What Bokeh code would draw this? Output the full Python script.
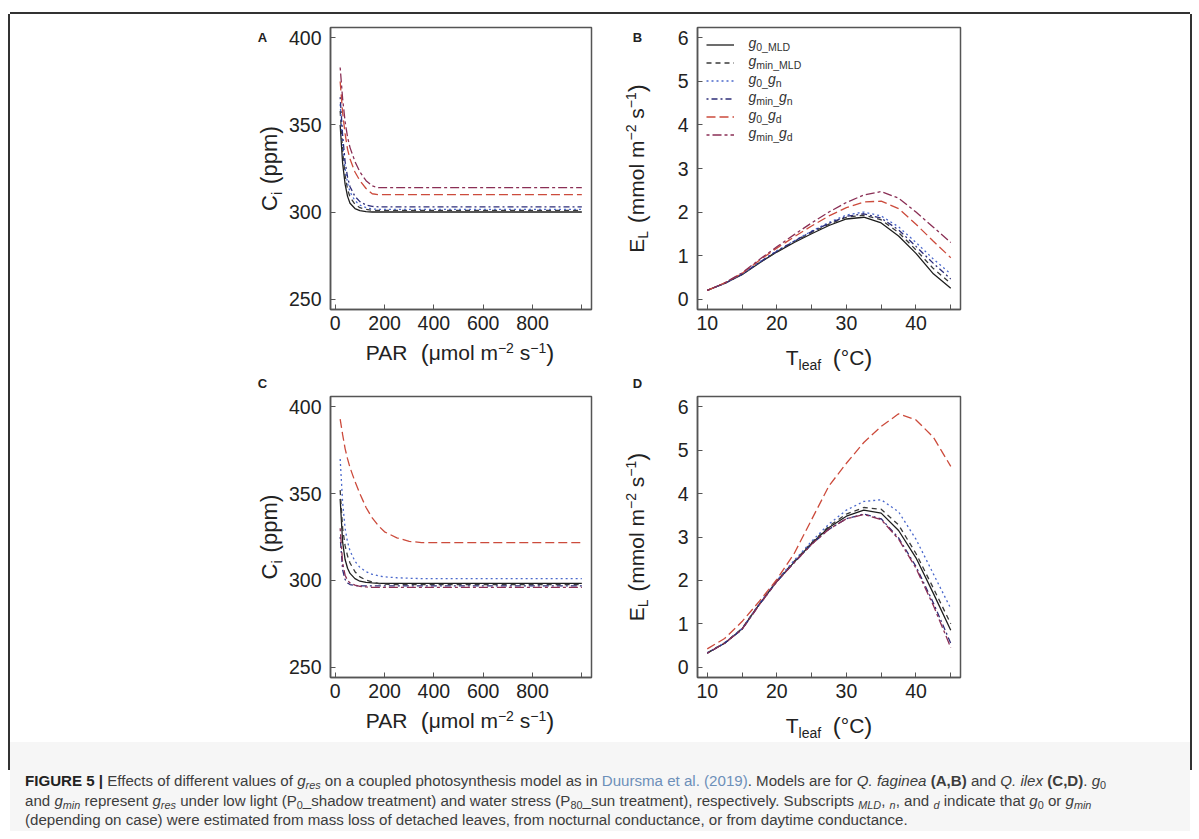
import math
from bokeh.plotting import figure
from bokeh.models import FixedTicker, Label, Legend, LegendItem, Range1d, Spacer, Div
from bokeh.layouts import column, row
from bokeh.core.properties import value
from bokeh.embed import file_html
from bokeh.resources import INLINE

# ---------------- data ----------------
par = [20, 30, 40, 50, 60, 80, 100, 125, 150, 175, 200, 250, 300, 350, 400, 600, 800, 1000]
tleaf = [10, 12.5, 15, 17.5, 20, 22.5, 25, 27.5, 30, 32.5, 35, 37.5, 40, 42.5, 45]

series_names = ["g0_MLD", "gmin_MLD", "g0_gn", "gmin_gn", "g0_gd", "gmin_gd"]

# Panel A: Q. faginea, Ci vs PAR
a_g0_mld = [350, 328, 316, 309, 305, 302, 300.8, 300.2, 300, 300, 300, 300, 300, 300, 300, 300, 300, 300]
a_gmin_mld = [358, 335, 321, 313, 308.5, 304.5, 302.5, 301.5, 301, 301, 301, 301, 301, 301, 301, 301, 301, 301]
a_g0_gn = [362, 340, 325, 316.5, 311.5, 306.5, 304, 302.5, 301.8, 301.5, 301.5, 301.5, 301.5, 301.5, 301.5, 301.5, 301.5, 301.5]
a_gmin_gn = [366, 344, 329, 320, 314.5, 309, 306, 304, 303.2, 303, 303, 303, 303, 303, 303, 303, 303, 303]
a_g0_gd = [375, 357, 345, 336, 330.5, 323, 318, 313.5, 310.5, 310, 310, 310, 310, 310, 310, 310, 310, 310]
a_gmin_gd = [383, 365, 352, 343, 337, 329, 323, 318, 315, 314, 314, 314, 314, 314, 314, 314, 314, 314]

# Panel B: Q. faginea, EL vs Tleaf
b_g0_mld = [0.20, 0.36, 0.56, 0.83, 1.08, 1.30, 1.50, 1.69, 1.84, 1.88, 1.75, 1.45, 1.05, 0.58, 0.25]
b_gmin_mld = [0.20, 0.36, 0.57, 0.84, 1.09, 1.32, 1.53, 1.72, 1.88, 1.93, 1.82, 1.53, 1.13, 0.70, 0.36]
b_g0_gn = [0.20, 0.36, 0.57, 0.85, 1.11, 1.34, 1.56, 1.76, 1.93, 2.00, 1.91, 1.66, 1.30, 0.92, 0.58]
b_gmin_gn = [0.20, 0.36, 0.57, 0.84, 1.10, 1.33, 1.55, 1.74, 1.90, 1.96, 1.86, 1.59, 1.21, 0.82, 0.46]
b_g0_gd = [0.20, 0.37, 0.59, 0.89, 1.17, 1.43, 1.68, 1.91, 2.10, 2.23, 2.25, 2.08, 1.72, 1.33, 0.95]
b_gmin_gd = [0.20, 0.37, 0.60, 0.91, 1.20, 1.48, 1.75, 2.00, 2.22, 2.39, 2.47, 2.32, 2.00, 1.65, 1.30]

# Panel C: Q. ilex, Ci vs PAR
c_g0_mld = [347, 322, 312, 307, 304, 301, 299.5, 298.8, 298.5, 298.3, 298.3, 298.3, 298.3, 298.3, 298.3, 298.3, 298.3, 298.3]
c_gmin_mld = [352, 330, 320, 314, 310, 305, 302, 300.2, 299, 298.2, 297.8, 297.5, 297.5, 297.5, 297.5, 297.5, 297.5, 297.5]
c_g0_gn = [370, 345, 330, 322, 317, 311, 307.5, 305, 303.5, 302.6, 302, 301.5, 301.2, 301, 301, 301, 301, 301]
c_gmin_gn = [325, 306, 300.5, 298.5, 297.6, 297, 296.8, 296.8, 296.8, 296.8, 296.8, 296.8, 296.8, 296.8, 296.8, 296.8, 296.8, 296.8]
c_g0_gd = [393, 384, 376, 370, 365, 357, 350, 342, 336, 331.5, 328, 324.5, 322.5, 321.8, 321.7, 321.7, 321.7, 321.7]
c_gmin_gd = [330, 310, 303, 300, 298.5, 297.3, 296.6, 296.2, 296, 296, 296, 296, 296, 296, 296, 296, 296, 296]

# Panel D: Q. ilex, EL vs Tleaf
d_g0_mld = [0.32, 0.55, 0.88, 1.45, 1.98, 2.42, 2.85, 3.22, 3.48, 3.62, 3.55, 3.15, 2.52, 1.70, 0.85]
d_gmin_mld = [0.33, 0.56, 0.89, 1.46, 1.99, 2.44, 2.87, 3.25, 3.53, 3.68, 3.64, 3.28, 2.62, 1.82, 1.00]
d_g0_gn = [0.33, 0.56, 0.89, 1.47, 2.00, 2.46, 2.90, 3.30, 3.62, 3.82, 3.86, 3.58, 2.95, 2.15, 1.35]
d_gmin_gn = [0.32, 0.55, 0.87, 1.44, 1.97, 2.41, 2.83, 3.18, 3.42, 3.53, 3.42, 2.98, 2.32, 1.48, 0.55]
d_g0_gd = [0.42, 0.66, 1.05, 1.52, 2.02, 2.62, 3.40, 4.18, 4.70, 5.18, 5.55, 5.84, 5.70, 5.30, 4.63]
d_gmin_gd = [0.32, 0.55, 0.87, 1.44, 1.97, 2.41, 2.83, 3.18, 3.42, 3.52, 3.40, 2.95, 2.28, 1.42, 0.45]

par_ticks = [0, 200, 400, 600, 800, 1000]
ci_ticks = [250, 300, 350, 400]
t_ticks = [10, 15, 20, 25, 30, 35, 40, 45]
el_ticks = [0, 1, 2, 3, 4, 5, 6]

# ---------------- styles ----------------
colors = ["#1e1e1e", "#3a3a3a", "#4a68cc", "#2e2e78", "#cc4b3c", "#8a2f55"]
dashes = ["solid", "5 4", "2 3", "2 3 6 3", "9 4", "3 3 9 3"]
FONT = "Liberation Sans"
TXT = "#222222"
AXC = "#555555"

WID = {' ': 278, '(': 333, ')': 333, '°': 400, '−': 584, '_': 556, 'A': 667, 'C': 722,
       'E': 667, 'L': 556, 'P': 667, 'R': 722, 'T': 611, 'M': 833, 'D': 722, 'a': 556,
       'e': 556, 'f': 278, 'i': 222, 'l': 222, 'm': 833, 'o': 556, 'p': 556, 's': 500,
       'g': 556, 'n': 556, 'd': 556, 'μ': 576, '0': 556, '1': 556, '2': 556}


def tw(s, size):
    return sum(WID.get(ch, 556) for ch in s) * size / 1000.0


class TextMixin:
    def raw(self, px, py, s, size, angle=0.0, style="normal", align="left",
            baseline="middle", color=TXT):
        self.fig.add_layout(Label(x=self.X(px), y=self.Y(py), text=s, text_font=FONT,
                                  text_font_size=f"{size}px", text_font_style=style,
                                  text_color=color, text_align=align,
                                  text_baseline=baseline, angle=angle))

    def hrich(self, cx, by, pieces, left=False, color=TXT):
        # by = alphabetic baseline (page px); drawn with a 'middle' anchor
        total = sum(tw(t, s) for t, s, d, st in pieces)
        x = cx if left else cx - total / 2.0
        for t, s, d, st in pieces:
            if t.strip():
                self.raw(x, by + d - 0.35 * s, t, s, style=st, color=color)
            x += tw(t, s)

    def vrich(self, bx, cy, pieces):
        total = sum(tw(t, s) for t, s, d, st in pieces)
        y = cy + total / 2.0
        for t, s, d, st in pieces:
            if t.strip():
                self.raw(bx + d - 0.35 * s, y, t, s, angle=math.pi / 2, style=st)
            y -= tw(t, s)


class Panel(TextMixin):
    def __init__(self, fig, L, R, T, B, xr, yr):
        self.fig, self.L, self.R, self.T, self.B, self.xr, self.yr = fig, L, R, T, B, xr, yr

    def X(self, px):
        return self.xr[0] + (px - self.L) / (self.R - self.L) * (self.xr[1] - self.xr[0])

    def Y(self, py):
        return self.yr[1] - (py - self.T) / (self.B - self.T) * (self.yr[1] - self.yr[0])


class TextCanvas(TextMixin):
    """A plain figure used only for text; bt/bb match the neighbouring plot so that
    the frames line up (Bokeh aligns the frames of plots placed in one row)."""

    def __init__(self, left, top, w, h, bt=0, bb=0):
        self.left, self.ftop = left, top + bt
        self.fh = h - bt - bb
        f = figure(width=w, height=h, x_range=Range1d(0, w), y_range=Range1d(0, self.fh),
                   output_backend="svg", toolbar_location=None, title_location=None,
                   min_border_left=0, min_border_right=0, min_border_top=bt, min_border_bottom=bb,
                   x_axis_type=None, y_axis_type=None, outline_line_color=None,
                   background_fill_color="white", border_fill_color="white")
        f.grid.visible = False
        self.fig = f

    def X(self, px):
        return px - self.left

    def Y(self, py):
        return self.ftop + self.fh - py


def make_fig(w, h, bl, br, bt, bb, xr, yr, xticks, yticks, xover):
    p = figure(width=w, height=h, x_range=Range1d(*xr), y_range=Range1d(*yr),
               output_backend="svg", toolbar_location=None, title_location=None,
               min_border_left=bl, min_border_right=br, min_border_top=bt, min_border_bottom=bb,
               background_fill_color="white", border_fill_color="white",
               outline_line_color=AXC, outline_line_width=1.5)
    p.grid.visible = False
    for ax, ticks in ((p.xaxis, xticks), (p.yaxis, yticks)):
        ax.ticker = FixedTicker(ticks=ticks)
        ax.major_tick_in = 5
        ax.major_tick_out = 0
        ax.major_tick_line_color = AXC
        ax.minor_tick_line_color = None
        ax.axis_line_color = AXC
        ax.axis_line_width = 1.5
        ax.major_label_text_font = FONT
        ax.major_label_text_font_size = "19.5px"
        ax.major_label_text_color = TXT
    p.xaxis.major_label_standoff = 6
    p.yaxis.major_label_standoff = 9
    p.xaxis.major_label_overrides = xover
    return p


XR_PAR = (-19.2, 1039.2)
YR_CI = (244.0, 406.0)
XR_T = (8.6, 46.4)
YR_EL = (-0.24, 6.24)
T_OVER = {15: "", 25: "", 35: "", 45: ""}

# geometry in page pixels (inner area starts at x=10, y=14)
# row 1: plots y 14..340, titles y 340..392 ; row 2: plots y 392..708, titles y 708..742
pA = make_fig(315, 326, 43, 9, 13, 31, XR_PAR, YR_CI, par_ticks, ci_ticks, {1000: ""})
pB = make_fig(537, 326, 44, 230, 13, 31, XR_T, YR_EL, t_ticks, el_ticks, T_OVER)
pC = make_fig(315, 316, 43, 9, 4, 31, XR_PAR, YR_CI, par_ticks, ci_ticks, {1000: ""})
pD = make_fig(537, 316, 44, 230, 4, 31, XR_T, YR_EL, t_ticks, el_ticks, T_OVER)

PA = Panel(pA, 328, 591, 27, 309, XR_PAR, YR_CI)
PB = Panel(pB, 697, 960, 27, 309, XR_T, YR_EL)
PC = Panel(pC, 328, 591, 396, 677, XR_PAR, YR_CI)
PD = Panel(pD, 697, 960, 396, 677, XR_T, YR_EL)

# text canvases around the plots
A_left = TextCanvas(10, 14, 275, 326, 13, 31)
A_bot = TextCanvas(10, 340, 590, 52)
B_left = TextCanvas(600, 14, 53, 326, 13, 31)
B_bot = TextCanvas(600, 340, 590, 52)
C_left = TextCanvas(10, 392, 275, 316, 4, 31)
C_bot = TextCanvas(10, 708, 590, 34)
D_left = TextCanvas(600, 392, 53, 316, 4, 31)
D_bot = TextCanvas(600, 708, 590, 34)

A_data = [a_g0_mld, a_gmin_mld, a_g0_gn, a_gmin_gn, a_g0_gd, a_gmin_gd]
B_data = [b_g0_mld, b_gmin_mld, b_g0_gn, b_gmin_gn, b_g0_gd, b_gmin_gd]
C_data = [c_g0_mld, c_gmin_mld, c_g0_gn, c_gmin_gn, c_g0_gd, c_gmin_gd]
D_data = [d_g0_mld, d_gmin_mld, d_g0_gn, d_gmin_gn, d_g0_gd, d_gmin_gd]

b_renderers = []
for i in range(6):
    pA.line(par, A_data[i], line_color=colors[i], line_dash=dashes[i], line_width=1.3)
    r = pB.line(tleaf, B_data[i], line_color=colors[i], line_dash=dashes[i], line_width=1.3)
    b_renderers.append(r)
    pC.line(par, C_data[i], line_color=colors[i], line_dash=dashes[i], line_width=1.3)
    pD.line(tleaf, D_data[i], line_color=colors[i], line_dash=dashes[i], line_width=1.3)

legend = Legend(items=[LegendItem(label=value(" "), renderers=[r]) for r in b_renderers],
                location="top_left", margin=0, padding=9, glyph_width=28, glyph_height=17,
                label_height=17, spacing=1, label_standoff=0, border_line_alpha=0,
                background_fill_alpha=0, label_text_font_size="8px")
pB.add_layout(legend)

leg_pieces = [
    [("g", 14, 0, "italic"), ("0_MLD", 10.5, 3, "normal")],
    [("g", 14, 0, "italic"), ("min_MLD", 10.5, 3, "normal")],
    [("g", 14, 0, "italic"), ("0_", 10.5, 3, "normal"), ("g", 14, 0, "italic"), ("n", 10.5, 3, "normal")],
    [("g", 14, 0, "italic"), ("min_", 10.5, 3, "normal"), ("g", 14, 0, "italic"), ("n", 10.5, 3, "normal")],
    [("g", 14, 0, "italic"), ("0_", 10.5, 3, "normal"), ("g", 14, 0, "italic"), ("d", 10.5, 3, "normal")],
    [("g", 14, 0, "italic"), ("min_", 10.5, 3, "normal"), ("g", 14, 0, "italic"), ("d", 10.5, 3, "normal")],
]
for i, pcs in enumerate(leg_pieces):
    cy = PB.T + 9 + 8.5 + 18 * i
    PB.hrich(748, cy + 2.5, pcs, left=True, color="#333333")

# axis titles (no leading/trailing blanks inside a piece: gaps are separate pieces)
par_title = [("PAR", 21, 0, "normal"), ("  ", 21, 0, "normal"), ("(", 24, 1, "normal"),
             ("μmol m", 21, 0, "normal"), ("−2", 14, -7, "normal"), (" ", 21, 0, "normal"),
             ("s", 21, 0, "normal"), ("−1", 14, -7, "normal"), (")", 24, 1, "normal")]
t_title = [("T", 21, 0, "normal"), ("leaf", 14, 5, "normal"), ("  ", 21, 0, "normal"),
           ("(", 24, 1, "normal"), ("°C", 21, 0, "normal"), (")", 24, 1, "normal")]
ci_title = [("C", 22, 0, "normal"), ("i", 14, 4, "normal"), ("  ", 14, 0, "normal"),
            ("(", 23, 1, "normal"), ("ppm", 22, 0, "normal"), (")", 23, 1, "normal")]
el_title = [("E", 21, 0, "normal"), ("L", 14, 4, "normal"), ("  ", 14, 0, "normal"),
            ("(", 24, 1, "normal"), ("mmol m", 21, 0, "normal"), ("−2", 14, -8, "normal"),
            (" ", 21, 0, "normal"), ("s", 21, 0, "normal"), ("−1", 14, -8, "normal"),
            (")", 24, 1, "normal")]

A_bot.hrich((PA.L + PA.R) / 2.0, PA.B + 50, par_title)
C_bot.hrich((PC.L + PC.R) / 2.0, PC.B + 50, par_title)
B_bot.hrich((PB.L + PB.R) / 2.0, PB.B + 55, t_title)
D_bot.hrich((PD.L + PD.R) / 2.0, PD.B + 55, t_title)
A_left.vrich(277, (PA.T + PA.B) / 2.0, ci_title)
C_left.vrich(277, (PC.T + PC.B) / 2.0, ci_title)
B_left.vrich(643, (PB.T + PB.B) / 2.0, el_title)
D_left.vrich(643, (PD.T + PD.B) / 2.0, el_title)

for Cv, letter, px, py in ((A_left, "A", 262, 37), (B_left, "B", 637, 37),
                           (A_bot, "C", 262, 383), (B_bot, "D", 637, 383)):
    Cv.raw(px, py, letter, 13, style="bold", align="center", baseline="middle")

# caption
cap_html = (
    "<style>sub{font-size:72%;line-height:0;vertical-align:-0.28em;}</style>"
    "<div style=\"font-family:'Liberation Sans',Arial,sans-serif;font-size:15.1px;color:#3d3d3d;"
    "line-height:19.5px;white-space:nowrap;padding:29px 0 0 15px;\">"
    "<b style=\"color:#222\">FIGURE 5 |</b> Effects of different values of <i>g<sub>res</sub></i> on a coupled "
    "photosynthesis model as in <span style=\"color:#6d8fb9\">Duursma et al. (2019)</span>. Models are for "
    "<i>Q. faginea</i> <b>(A,B)</b> and <i>Q. ilex</i> <b>(C,D)</b>. <i>g</i><sub>0</sub><br>"
    "and <i>g<sub>min</sub></i> represent <i>g<sub>res</sub></i> under low light (P<sub>0</sub>_shadow treatment) "
    "and water stress (P<sub>80</sub>_sun treatment), respectively. Subscripts <sub><i>MLD</i></sub>, "
    "<sub><i>n</i></sub>, and <sub><i>d</i></sub> indicate that <i>g</i><sub>0</sub> or <i>g<sub>min</sub></i><br>"
    "(depending on case) were estimated from mass loss of detached leaves, from nocturnal conductance, "
    "or from daytime conductance.</div>"
)
caption = Div(text=cap_html, width=1180, height=89, margin=0,
              styles={"background-color": "#f6f6f6"})


def bar(w, h):
    return Div(text="", width=w, height=h, margin=0, styles={"background-color": "#333333"})


def block(left, plot, bottom):
    return column(row(left.fig, plot), bottom.fig)


# the top frame line is a shadow just above the figure grid (it does not change the layout)
grid = column(row(block(A_left, pA, A_bot), block(B_left, pB, B_bot)),
              row(block(C_left, pC, C_bot), block(D_left, pD, D_bot)),
              styles={"box-shadow": "0 -2px 0 0 #333333"})
inner = column(grid, caption)
framed = row(bar(2, 756), inner, bar(2, 756))
layout = column(
    Spacer(width=1192, height=14),
    row(Spacer(width=8, height=10), framed),
)

open("out.html", "w").write(file_html(layout, INLINE))
